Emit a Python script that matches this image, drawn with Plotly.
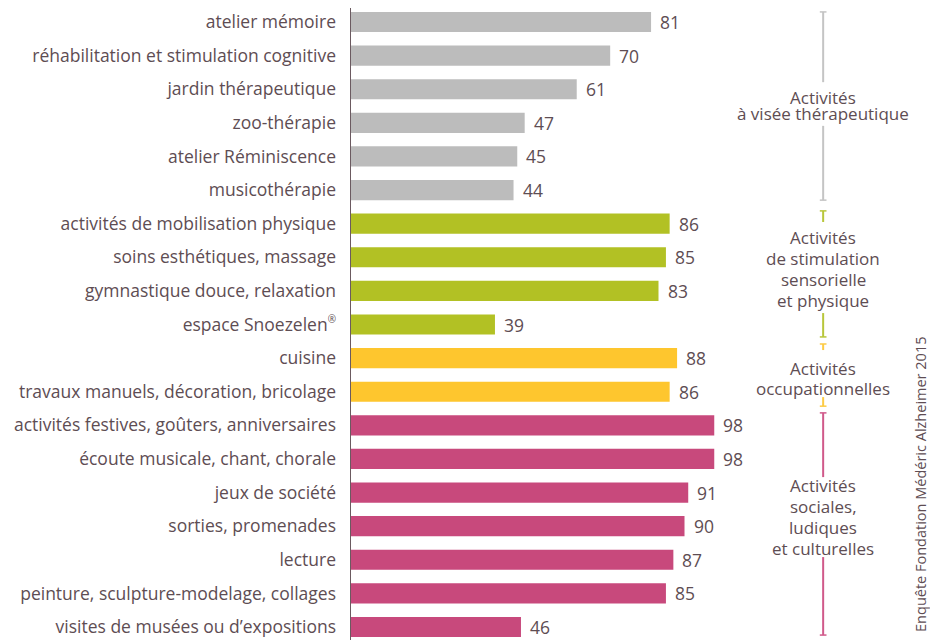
import plotly.graph_objects as go

categories = [
    "atelier mémoire",
    "réhabilitation et stimulation cognitive",
    "jardin thérapeutique",
    "zoo-thérapie",
    "atelier Réminiscence",
    "musicothérapie",
    "activités de mobilisation physique",
    "soins esthétiques, massage",
    "gymnastique douce, relaxation",
    "espace Snoezelen<sup><span style='font-size:10px'>®</span></sup>",
    "cuisine",
    "travaux manuels, décoration, bricolage",
    "activités festives, goûters, anniversaires",
    "écoute musicale, chant, chorale",
    "jeux de société",
    "sorties, promenades",
    "lecture",
    "peinture, sculpture-modelage, collages",
    "visites de musées ou d’expositions",
]
values = [81, 70, 61, 47, 45, 44, 86, 85, 83, 39, 88, 86, 98, 98, 91, 90, 87, 85, 46]
groups = [0]*6 + [1]*4 + [2]*2 + [3]*7
group_labels = [
    ["Activités", "à visée thérapeutique"],
    ["Activités", "de stimulation", "sensorielle", "et physique"],
    ["Activités", "occupationnelles"],
    ["Activités", "sociales,", "ludiques", "et culturelles"],
]
source = "Enquête Fondation Médéric Alzheimer 2015"

bar_colors = ["#bcbcbc", "#b2c124", "#fec62e", "#c8497c"]
line_colors = ["#c4c4c4", "#b8c63a", "#fdcb45", "#d0598a"]
text_color = "#5e4d53"
FONT = "Open Sans"
FS = 17.5

ypos = list(range(len(categories)))

fig = go.Figure()
fig.add_trace(go.Bar(
    x=values, y=ypos, orientation="h",
    marker=dict(color=[bar_colors[g] for g in groups], line=dict(width=0)),
    width=0.6, hoverinfo="skip",
))

annotations = []
for i, v in enumerate(values):
    annotations.append(dict(x=v, y=i, xref="x", yref="y", text=str(v),
                            showarrow=False, xanchor="left", xshift=7,
                            font=dict(size=FS, color=text_color, family=FONT)))

# group brackets: (top, break_top, break_bottom, bottom, text_center, line_spacing_px)
bracket_layout = [
    (-0.30, 1.79, 3.09, 5.30, 2.47, 16),
    (5.62, 5.95, 8.66, 9.37, 7.36, 21),
    (9.58, 9.76, 11.16, 11.43, 10.62, 20),
    (11.63, 13.54, 15.92, 18.24, 14.73, 21),
]
bx = 127.3
shapes = []
for g, (t, bt, bb, b, tc, sp) in enumerate(bracket_layout):
    lc = line_colors[g]
    for (y0, y1) in [(t, bt), (bb, b)]:
        shapes.append(dict(type="line", xref="x", yref="y", x0=bx, x1=bx, y0=y0, y1=y1,
                           line=dict(color=lc, width=2)))
    for yy in (t, b):
        shapes.append(dict(type="line", xref="x", yref="y", x0=bx-0.9, x1=bx+0.9, y0=yy, y1=yy,
                           line=dict(color=lc, width=1.5)))
    lines = group_labels[g]
    n = len(lines)
    for k, ln in enumerate(lines):
        annotations.append(dict(x=bx, y=tc, xref="x", yref="y", text=ln,
                                showarrow=False, xanchor="center", yanchor="middle",
                                yshift=-(k - (n - 1) / 2) * sp,
                                font=dict(size=FS - 0.5, color=text_color, family=FONT)))

# y axis line
shapes.append(dict(type="line", xref="x", yref="y", x0=0, x1=0, y0=-0.45, y1=18.6,
                   line=dict(color="#6b5a60", width=2)))

annotations.append(dict(x=153.3, y=13.75, xref="x", yref="y", text=source, textangle=-90,
                        showarrow=False, xanchor="center", yanchor="middle",
                        font=dict(size=14.5, color=text_color, family=FONT)))

# the page adds an 8px body margin, so the figure is 8px smaller and shifted
fig.update_layout(
    width=930, height=632,
    margin=dict(l=342, r=0, t=0, b=0, autoexpand=False),
    paper_bgcolor="white", plot_bgcolor="white",
    showlegend=False,
    xaxis=dict(range=[0, 158.2], showgrid=False, zeroline=False, showticklabels=False,
               showline=False, fixedrange=True, automargin=False),
    yaxis=dict(range=[18.387, -0.4166], tickvals=ypos, ticktext=categories,
               showgrid=False, zeroline=False, showline=False, ticks="",
               ticklabelstandoff=13, automargin=False,
               tickfont=dict(size=FS, color=text_color, family=FONT)),
    shapes=shapes, annotations=annotations,
)

fig.write_html("out.html")
